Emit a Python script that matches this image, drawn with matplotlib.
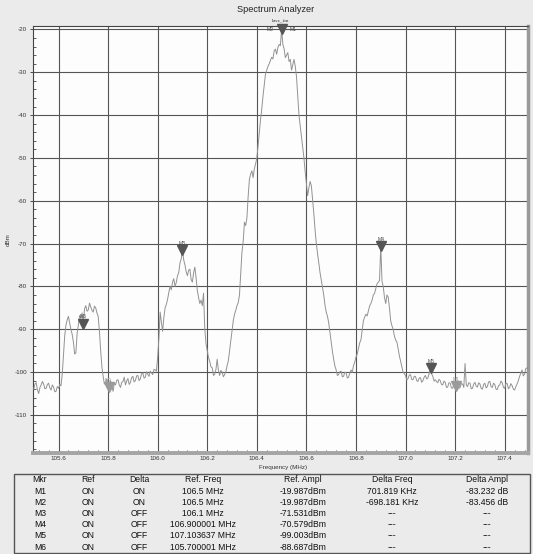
import numpy as np
import matplotlib
matplotlib.use("Agg")
import matplotlib.pyplot as plt
from matplotlib.patches import Rectangle

# ---- trace: amplitude (dBm) sampled every 5 kHz from 105.500 MHz ----
f_start = 105.50
f_step = 0.005
trace_dbm = [
    # 105.50
    -104.0, -102.8, -102.5, -104.2, -105.0, -103.6, -103.0, -102.2, -102.8, -103.9,
    -103.8, -102.9, -102.6, -103.7, -104.2, -103.0, -103.5, -104.6, -104.5, -103.4,
    # 105.60
    -103.8, -102.9, -103.2, -100.5, -96.0, -91.5, -89.0, -87.8, -87.0, -88.6,
    -90.0, -91.2, -93.0, -95.8, -95.5, -91.0, -89.0, -86.8, -87.5, -86.2,
    # 105.70
    -88.7, -85.2, -84.5, -85.8, -85.5, -83.9, -84.8, -85.6, -86.0, -84.6,
    -85.0, -86.2, -87.0, -90.5, -95.0, -98.8, -101.0, -102.8, -102.5, -101.6,
    # 105.80
    -103.4, -103.9, -102.0, -103.2, -104.5, -102.6, -103.0, -101.9, -101.8, -103.0,
    -103.6, -102.4, -102.2, -101.2, -103.0, -102.1, -101.5, -102.9, -102.4, -101.3,
    # 105.90
    -101.0, -102.3, -102.0, -100.9, -100.8, -102.0, -101.6, -100.4, -100.2, -101.4,
    -101.2, -99.9, -100.5, -101.0, -99.8, -100.2, -100.6, -99.4, -99.5, -99.8,
    # 106.00
    -96.5, -92.0, -86.0, -88.4, -90.5, -87.2, -85.0, -84.2, -83.0, -81.4,
    -80.0, -80.8, -79.0, -78.2, -80.0, -79.1, -77.5, -76.8, -74.5, -73.6,
    # 106.10
    -71.5, -73.8, -75.0, -76.6, -77.5, -76.2, -76.0, -78.4, -79.0, -76.8,
    -75.5, -78.0, -81.0, -82.6, -84.0, -83.2, -84.5, -81.6, -90.0, -93.4,
    # 106.20
    -95.0, -96.6, -97.5, -98.8, -99.0, -100.8, -100.5, -99.4, -97.0, -99.6,
    -100.8, -99.6, -100.0, -101.1, -100.6, -99.9, -98.5, -97.4, -95.0, -92.6,
    # 106.30
    -90.0, -88.0, -86.5, -85.6, -84.5, -83.8, -82.0, -77.0, -72.0, -69.5,
    -65.0, -65.8, -64.0, -59.0, -55.0, -53.8, -53.0, -54.6, -52.5, -51.4,
    # 106.40
    -50.0, -47.2, -44.0, -41.0, -38.5, -35.5, -33.0, -30.4, -29.5, -28.6,
    -28.0, -27.2, -26.5, -26.9, -25.0, -24.6, -25.8, -24.2, -23.5, -23.8,
    # 106.50
    -20.0, -23.5, -24.5, -26.6, -26.0, -25.4, -27.5, -27.0, -29.5, -28.2,
    -27.0, -28.6, -31.0, -35.5, -40.0, -42.4, -45.0, -47.6, -50.0, -53.2,
    # 106.60
    -56.0, -58.8, -57.0, -55.5, -56.5, -59.8, -63.0, -66.8, -70.0, -72.4,
    -74.5, -76.8, -78.5, -80.1, -82.0, -84.4, -86.0, -87.0, -88.5, -90.8,
    # 106.70
    -93.0, -95.2, -97.0, -98.6, -99.5, -100.8, -100.6, -99.9, -99.8, -101.1,
    -101.0, -100.0, -100.2, -101.4, -101.2, -100.3, -99.5, -100.1, -98.5, -97.7,
    # 106.80
    -96.5, -95.8, -94.5, -93.2, -92.5, -90.2, -88.0, -87.2, -86.5, -86.9,
    -85.8, -84.6, -84.0, -83.2, -82.0, -81.6, -80.5, -79.4, -79.0, -78.6,
    # 106.90
    -70.6, -78.8, -80.0, -82.6, -84.0, -82.0, -82.5, -85.0, -88.0, -89.2,
    -90.0, -91.6, -92.5, -93.0, -94.5, -96.2, -97.5, -98.9, -100.0, -100.4,
    # 107.00
    -100.8, -101.9, -101.5, -100.7, -100.6, -101.7, -101.8, -101.0, -101.0, -102.0,
    -102.2, -101.4, -101.3, -102.4, -102.0, -101.2, -100.8, -101.6, -101.4, -100.4,
    # 107.10
    -99.0, -100.4, -101.0, -102.1, -101.8, -102.2, -102.5, -101.7, -102.0, -102.9,
    -103.0, -102.1, -102.4, -103.6, -103.5, -102.5, -102.6, -103.7, -103.8, -102.8,
    # 107.20
    -103.2, -102.4, -102.5, -103.8, -103.6, -102.7, -102.8, -103.6, -98.0, -103.0,
    -103.4, -102.5, -102.6, -103.9, -103.8, -102.8, -102.4, -103.3, -103.5, -102.5,
    # 107.30
    -102.8, -103.8, -104.0, -102.9, -102.6, -103.7, -103.4, -102.3, -102.2, -103.4,
    -103.6, -102.6, -102.9, -104.0, -104.1, -103.2, -103.0, -102.1, -102.5, -103.6,
    # 107.40
    -103.8, -102.6, -102.7, -103.9, -103.6, -102.7, -103.2, -104.0, -104.2, -103.4,
    -102.8, -102.0, -101.0, -100.3, -99.5, -100.9, -100.5, -99.2, -99.0, -99.6,
]
freq_mhz = f_start + f_step * np.arange(len(trace_dbm))

# ---- marker table ----
mkr_names = ["M1", "M2", "M3", "M4", "M5", "M6"]
mkr_ref = ["ON", "ON", "ON", "ON", "ON", "ON"]
mkr_delta = ["ON", "ON", "OFF", "OFF", "OFF", "OFF"]
mkr_ref_freq = [106.5, 106.5, 106.1, 106.900001, 107.103637, 105.700001]     # MHz
mkr_ref_ampl = [-19.987, -19.987, -71.531, -70.579, -99.003, -88.687]        # dBm
mkr_delta_freq = [701.819, -698.181, None, None, None, None]                 # KHz
mkr_delta_ampl = [-83.232, -83.456, None, None, None, None]                  # dB

x_ticks = [105.6, 105.8, 106.0, 106.2, 106.4, 106.6, 106.8, 107.0, 107.2, 107.4]
y_ticks = [-20, -30, -40, -50, -60, -70, -80, -90, -100, -110]

# ---- figure ----
W, H = 533, 554
fig = plt.figure(figsize=(W / 100, H / 100), dpi=100)
bg = "#ebebeb"
fig.patch.set_facecolor(bg)
plt.rcParams["font.family"] = ["Liberation Sans", "DejaVu Sans"]


def fx(x):
    return x / W


def fy(y):
    return 1 - y / H


ax_l, ax_r, ax_t, ax_b = 33, 528, 26, 453
ax = fig.add_axes([fx(ax_l), fy(ax_b), (ax_r - ax_l) / W, (ax_b - ax_t) / H])
ax.set_facecolor("#fdfdfd")
ax.set_xlim(105.497, 107.494)
ax.set_ylim(-118.9, -19.2)

ax.set_xticks(x_ticks)
ax.set_xticklabels([f"{v:.1f}" for v in x_ticks])
ax.set_xticks(np.arange(105.52, 107.49, 0.04), minor=True)
ax.set_yticks(y_ticks)
ax.set_yticklabels([str(v) for v in y_ticks])
ax.set_yticks(np.arange(-118, -19, 2), minor=True)

ax.tick_params(axis="both", which="major", labelsize=4.5, colors="#333333",
               length=2.2, width=0.6, pad=2)
ax.tick_params(axis="y", which="major", direction="out")
ax.tick_params(axis="x", which="major", direction="in", length=2.5)
ax.tick_params(axis="both", which="minor", direction="in", length=2.4,
               width=0.6, color="#444444")

ax.grid(True, which="major", color="#555555", linewidth=0.8)
ax.set_axisbelow(True)

for side in ("left", "top"):
    ax.spines[side].set_color("#444444")
    ax.spines[side].set_linewidth(0.8)
ax.spines["right"].set_color("#9a9a9a")
ax.spines["right"].set_linewidth(2.5)
ax.spines["bottom"].set_color("#a5a5a5")
ax.spines["bottom"].set_linewidth(2.8)

# spectrum trace
ax.plot(freq_mhz, trace_dbm, color="#929292", linewidth=0.7, zorder=3)

# marker triangles
dark = "#555555"
light = "#9a9a9a"
lab_kw = dict(fontsize=3.6, ha="center", va="bottom", textcoords="offset points",
              xytext=(0, 3.0), zorder=6)

# reference markers M3..M6
for name, f, a in zip(mkr_names[2:], mkr_ref_freq[2:], mkr_ref_ampl[2:]):
    ax.plot(f, a, marker="v", ms=6.5, color=dark, mec=dark, zorder=5, clip_on=False)
    ax.annotate(name, (f, a), color="#444444", **lab_kw)

# shared reference point of M1/M2
f0, a0 = mkr_ref_freq[0], mkr_ref_ampl[0]
ax.plot(f0, a0, marker="v", ms=6.5, color=dark, zorder=5, clip_on=False)
ax.annotate("M2", (f0, a0), xytext=(-5.5, 0), textcoords="offset points",
            fontsize=3.6, ha="right", va="center", color="#444444")
ax.annotate("M1", (f0, a0), xytext=(5.5, 0), textcoords="offset points",
            fontsize=3.6, ha="left", va="center", color="#444444")

# delta markers
for name, fr, ar, df, da in zip(mkr_names[:2], mkr_ref_freq[:2], mkr_ref_ampl[:2],
                                mkr_delta_freq[:2], mkr_delta_ampl[:2]):
    f = fr + df / 1000.0
    a = ar + da
    ax.plot(f, a, marker="v", ms=6.5, color=light, zorder=5)
    ax.annotate(name, (f, a), color=light, **lab_kw)

# titles and axis labels
fig.text(fx(276), fy(10), "Spectrum Analyzer", fontsize=6.6, ha="center",
         va="center", color="#222222")
fig.text(fx(281), fy(20), "kwz_fm", fontsize=3.8, ha="center", va="center",
         color="#333333", family=["Liberation Serif", "DejaVu Serif"])
fig.text(fx(8), fy(240), "dBm", fontsize=4.5, rotation=90, ha="center",
         va="center", color="#333333")
fig.text(fx(283), fy(468), "Frequency (MHz)", fontsize=4.5, ha="center",
         va="center", color="#333333")

# marker table
fig.patches.append(Rectangle((fx(14), fy(553)), (530 - 14) / W, (553 - 474) / H,
                             transform=fig.transFigure, facecolor=bg,
                             edgecolor="#555555", linewidth=1.0))
col_x = [40, 88, 139, 203, 303, 392, 487]
headers = ["Mkr", "Ref", "Delta", "Ref. Freq", "Ref. Ampl", "Delta Freq", "Delta Ampl"]
row_y0, row_dy = 480, 11.2
tfs = 6.2
for cx, h in zip(col_x, headers):
    fig.text(fx(cx), fy(row_y0), h, fontsize=tfs, ha="center", va="center",
             color="#111111")


def fmt_freq(v):
    s = f"{v:.6f}".rstrip("0").rstrip(".")
    return f"{s} MHz"


for i, name in enumerate(mkr_names):
    y = row_y0 + row_dy * (i + 1)
    df = mkr_delta_freq[i]
    da = mkr_delta_ampl[i]
    cells = [
        name,
        mkr_ref[i],
        mkr_delta[i],
        fmt_freq(mkr_ref_freq[i]),
        f"{mkr_ref_ampl[i]:.3f}dBm",
        "---" if df is None else f"{df:.3f} KHz",
        "---" if da is None else f"{da:.3f} dB",
    ]
    for cx, c in zip(col_x, cells):
        fig.text(fx(cx), fy(y), c, fontsize=tfs, ha="center", va="center",
                 color="#111111")

fig.savefig("out.png", dpi=100, facecolor=bg)
